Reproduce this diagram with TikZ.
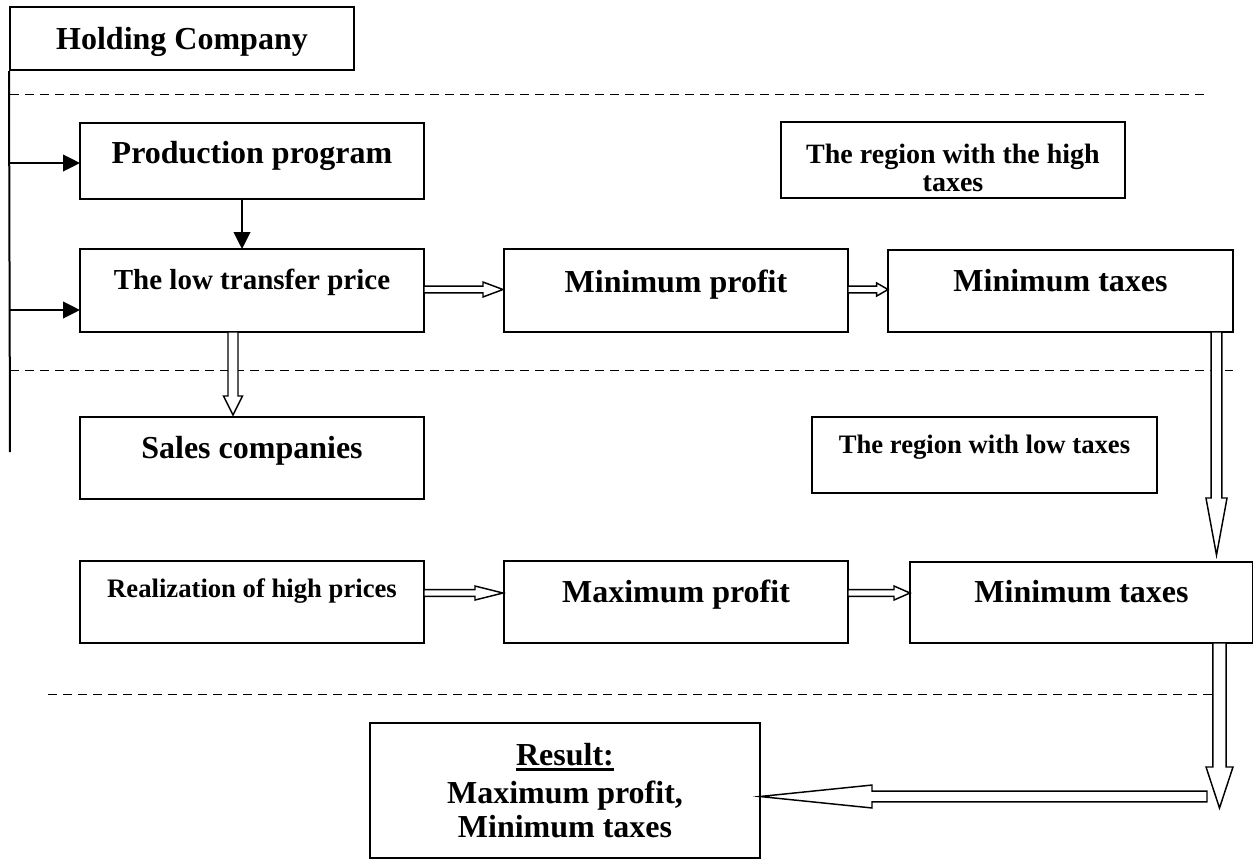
\documentclass[tikz,border=0pt]{standalone}
\usepackage{fontspec}
\setmainfont{Liberation Serif}
\usetikzlibrary{arrows.meta,calc,fit}
\tikzset{
  x=0.75pt, y=-0.75pt,
  box/.style={draw, line width=1.5pt, inner sep=0pt},
  txt/.style={inner sep=0pt, anchor=base, font=\bfseries\fontsize{24}{28}\selectfont},
  txtm/.style={inner sep=0pt, anchor=base, font=\bfseries\fontsize{21.75}{26}\selectfont},
  txth/.style={inner sep=0pt, anchor=base, font=\bfseries\fontsize{21}{25}\selectfont},
  txts/.style={inner sep=0pt, anchor=base, font=\bfseries\fontsize{20}{24}\selectfont},
  dashline/.style={line width=1.25pt, dash pattern=on 6.75pt off 4.5pt},
  thinarrow/.style={line width=1.6pt, -{Triangle[length=12.75pt, width=12.5pt]}},
  shaftw/.store in=\bkSh, headw/.store in=\bkHh, headl/.store in=\bkHl,
  shaftw=2.6pt, headw=5.6pt, headl=15pt,
  blk/.style={draw, line width=1.1pt, fill=white, line join=miter},
  blockright/.style={blk, to path={let \p1=(\tikztostart), \p2=(\tikztotarget) in
     (\x1,\y1+\bkSh) -- (\x2-\bkHl,\y1+\bkSh) -- (\x2-\bkHl,\y1+\bkHh) -- (\x2,\y1)
     -- (\x2-\bkHl,\y1-\bkHh) -- (\x2-\bkHl,\y1-\bkSh) -- (\x1,\y1-\bkSh) -- cycle}},
  blockleft/.style={blk, to path={let \p1=(\tikztostart), \p2=(\tikztotarget) in
     (\x1,\y1+\bkSh) -- (\x2+\bkHl,\y1+\bkSh) -- (\x2+\bkHl,\y1+\bkHh) -- (\x2,\y1)
     -- (\x2+\bkHl,\y1-\bkHh) -- (\x2+\bkHl,\y1-\bkSh) -- (\x1,\y1-\bkSh) -- cycle}},
  blockdown/.style={blk, to path={let \p1=(\tikztostart), \p2=(\tikztotarget) in
     (\x1-\bkSh,\y1) -- (\x1-\bkSh,\y2+\bkHl) -- (\x1-\bkHh,\y2+\bkHl) -- (\x1,\y2)
     -- (\x1+\bkHh,\y2+\bkHl) -- (\x1+\bkSh,\y2+\bkHl) -- (\x1+\bkSh,\y1) -- cycle}},
}
\begin{document}
\begin{tikzpicture}
\useasboundingbox (0,0) rectangle (1253,861);

% dashed separators
\draw[dashline] (10,94.5) -- (1207,94.5);
\draw[dashline] (10,370.5) -- (1233,370.5);
\draw[dashline] (48,694.5) -- (1232,694.5);

% boxes
\node[box, fit={(10,7) (354,70)}] (hc) {};
\node[box, fit={(80,123) (424,199)}] (pp) {};
\node[box, fit={(80,249) (424,332)}] (lt) {};
\node[box, fit={(504,249) (848,332)}] (mp) {};
\node[box, fit={(888,250) (1233,332)}] (mt1) {};
\node[box, fit={(781,122) (1125,198)}] (hr) {};
\node[box, fit={(80,417) (424,499)}] (sc) {};
\node[box, fit={(812,417) (1157,493)}] (lr) {};
\node[box, fit={(80,561) (424,643)}] (re) {};
\node[box, fit={(504,561) (848,643)}] (maxp) {};
\node[box, fit={(910,562) (1253,643)}] (mt2) {};
\node[box, fit={(370,723) (760,858)}] (rb) {};

% texts
\node[txt] (hct) at (182,49) {Holding Company};
\node[txt] (ppt) at (252,163) {Production program};
\node[txtm] (ltt) at (252,289) {The low transfer price};
\node[txt] (mpt) at (676,292) {Minimum profit};
\node[txt] (mt1t) at (1060.5,291) {Minimum taxes};
\node[txth] (hrt1) at (953,163) {The region with the high};
\node[txth] (hrt2) at (953,191) {taxes};
\node[txt] (sct) at (252,458) {Sales companies};
\node[txts] (lrt) at (984.5,453) {The region with low taxes};
\node[txts] (ret) at (252,597) {Realization of high prices};
\node[txt] (maxpt) at (676,602) {Maximum profit};
\node[txt] (mt2t) at (1081.5,602) {Minimum taxes};
\node[txt] (rbt1) at (565,765) {Result:};
\node[txt] (rbt2) at (565,803) {Maximum profit,};
\node[txt] (rbt3) at (565,837) {Minimum taxes};
\draw[line width=2.2pt] ($(rbt1.base west)+(0,4.5)$) -- ($(rbt1.base east)+(0,4.5)$);

% holding company line and thin arrows
\coordinate (vbot) at (10,452);
\draw[line width=1.5pt] (hc.south west) -- (vbot);
\coordinate (a1s) at (10,163);
\coordinate (a1e) at (80,163);
\draw[thinarrow] (a1s) -- (a1e);
\coordinate (a2s) at (10,310);
\coordinate (a2e) at (80,310);
\draw[thinarrow] (a2s) -- (a2e);
\coordinate (a3s) at (242,199);
\coordinate (a3e) at (242,249);
\draw[thinarrow] (a3s) -- (a3e);

% block arrows
\coordinate (b1s) at (424,289.5);
\coordinate (b1e) at (503,289.5);
\draw[blockright, shaftw=2.6pt, headw=5.6pt, headl=15pt] (b1s) to (b1e);
\coordinate (b2s) at (848,289.5);
\coordinate (b2e) at (888,289.5);
\draw[blockright, shaftw=2.6pt, headw=4.9pt, headl=8.5pt] (b2s) to (b2e);
\coordinate (b3s) at (424,593);
\coordinate (b3e) at (503,593);
\draw[blockright, shaftw=2.6pt, headw=5.25pt, headl=21pt] (b3s) to (b3e);
\coordinate (b4s) at (848,593);
\coordinate (b4e) at (910,593);
\draw[blockright, shaftw=2.6pt, headw=5.25pt, headl=12pt] (b4s) to (b4e);
\coordinate (b5s) at (233,332);
\coordinate (b5e) at (233,415);
\draw[blockdown, shaftw=3.75pt, headw=7.1pt, headl=14.25pt] (b5s) to (b5e);
\coordinate (b6s) at (1216.5,332);
\coordinate (b6e) at (1216.5,555);
\draw[blockdown, shaftw=4.1pt, headw=7.9pt, headl=42.75pt] (b6s) to (b6e);
\coordinate (b8s) at (1207,796.5);
\coordinate (b8e) at (760,796.5);
\draw[blockleft, shaftw=4.1pt, headw=8.6pt, headl=84pt] (b8s) to (b8e);
\coordinate (b7s) at (1219.5,643);
\coordinate (b7e) at (1219.5,808);
\draw[blockdown, shaftw=4.9pt, headw=10.1pt, headl=30.75pt] (b7s) to (b7e);
\end{tikzpicture}
\end{document}
